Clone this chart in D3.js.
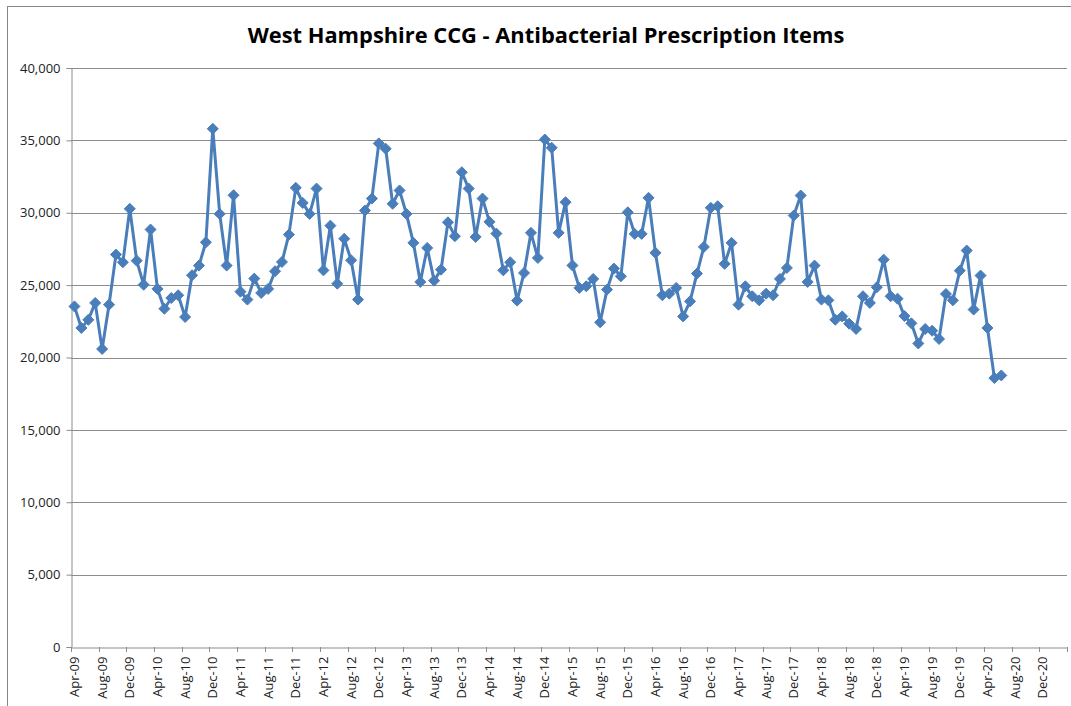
<!DOCTYPE html>
<html><head><meta charset="utf-8">
<script src="https://cdn.jsdelivr.net/npm/d3@7"></script>
<style>
body{margin:0;background:#fff;}
svg{display:block;font-family:"Open Sans","Liberation Sans",sans-serif;}
</style></head>
<body><svg id="chart" width="1071" height="706"></svg>
<script>
const title = "West Hampshire CCG - Antibacterial Prescription Items";
const monthNames = ["Jan","Feb","Mar","Apr","May","Jun","Jul","Aug","Sep","Oct","Nov","Dec"];
// axis covers Apr-09 .. Mar-21 (144 months), data Apr-09 .. Jun-20
const values = [
 23530,22040,22600,23770,20590,23650,27110,26580,30270,26690,25030,28840,
 24740,23370,24110,24300,22800,25680,26350,27960,35800,29920,26350,31210,
 24550,24000,25450,24460,24740,25960,26600,28490,31720,30680,29920,31670,
 26020,29110,25100,28200,26720,24000,30150,30980,34790,34420,30620,31540,
 29920,27920,25220,27570,25310,26070,29340,28380,32800,31670,28330,30980,
 29370,28560,26020,26580,23930,25840,28610,26880,35060,34490,28610,30730,
 26360,24810,24920,25430,22430,24690,26140,25610,30030,28540,28540,31030,
 27230,24300,24410,24810,22840,23880,25800,27640,30340,30450,26470,27920,
 23650,24920,24230,23950,24410,24300,25430,26190,29810,31190,25220,26350,
 24000,23950,22610,22840,22340,21970,24230,23770,24850,26760,24230,24060,
 22860,22360,20970,21970,21850,21280,24390,23950,26000,27390,23310,25660,
 22040,18580,18760
];
const yTicks = [0,5000,10000,15000,20000,25000,30000,35000,40000];
const nMonths = 144;
const startYear = 2009, startMonth = 3; // April
const monthLabel = i => { const m = (startMonth + i) % 12, y = startYear + Math.floor((startMonth + i)/12); return monthNames[m] + "-" + String(y % 100).padStart(2,"0"); };
const categories = d3.range(nMonths).map(monthLabel);
const tickIdx = d3.range(0, nMonths, 4);

const svg = d3.select("#chart");
const L = 71, R = 1067, T = 68, B = 647;

// chart border
svg.append("rect").attr("x",7.5).attr("y",6.5).attr("width",1100).attr("height",760)
  .attr("fill","#fff").attr("stroke","#868686").attr("stroke-width",1);

const x = d3.scaleBand().domain(categories).range([L, R]).paddingInner(0).paddingOuter(0);
const y = d3.scaleLinear().domain([0, 40000]).range([B, T]);

// gridlines
svg.append("g").selectAll("line").data(yTicks.filter(d => d > 0)).join("line")
  .attr("x1", L).attr("x2", R).attr("y1", d => Math.round(y(d)) + 0.5).attr("y2", d => Math.round(y(d)) + 0.5)
  .attr("stroke","#8c8c8c").attr("stroke-width",1);

// y axis
const yAxis = svg.append("g").attr("transform", `translate(${L + 0.5},0)`)
  .call(d3.axisLeft(y).tickValues(yTicks).tickSize(5).tickPadding(6).tickFormat(d3.format(",")));
yAxis.select(".domain").attr("stroke","#8c8c8c");
yAxis.selectAll(".tick line").attr("stroke","#8c8c8c");
yAxis.selectAll(".tick text").attr("font-size",13).attr("fill","#222")
  .attr("font-family","Open Sans, sans-serif");

// x axis
const xAxis = svg.append("g").attr("transform", `translate(0,${B + 0.5})`)
  .call(d3.axisBottom(x).tickValues(tickIdx.map(i => categories[i])).tickSize(0).tickFormat(d => d));
xAxis.select(".domain").attr("stroke","#8c8c8c");
xAxis.selectAll(".tick text")
  .attr("transform","rotate(-90)")
  .attr("text-anchor","end").attr("dy","0.35em").attr("dx",0).attr("x",-9).attr("y",0)
  .attr("font-size",13).attr("fill","#222").attr("font-family","Open Sans, sans-serif");
// tick marks at month boundaries
svg.append("g").selectAll("line").data(tickIdx.concat([nMonths])).join("line")
  .attr("x1", i => Math.round(L + i * x.step()) + 0.5).attr("x2", i => Math.round(L + i * x.step()) + 0.5)
  .attr("y1", B).attr("y2", B + 5).attr("stroke","#8c8c8c");

// series line
const cx = (d,i) => x(categories[i]) + x.bandwidth()/2;
const line = d3.line().x(cx).y(d => y(d));
svg.append("path").datum(values).attr("d", line)
  .attr("fill","none").attr("stroke","#4a7ebb").attr("stroke-width",3).attr("stroke-linejoin","round");

// diamond markers
const r = 5.5;
svg.append("g").selectAll("path").data(values).join("path")
  .attr("transform",(d,i) => `translate(${cx(d,i)},${y(d)})`)
  .attr("d",`M0,${-r}L${r},0L0,${r}L${-r},0Z`)
  .attr("fill","#4a7ebb").attr("stroke","#4a7ebb").attr("stroke-width",1);

// title
const t = svg.append("text").attr("x", 546).attr("y", 43).attr("text-anchor","middle")
  .attr("font-size",22).attr("font-weight","bold").attr("fill","#000")
  .attr("font-family","Open Sans, sans-serif").text(title);
const w = t.node().getComputedTextLength();
t.attr("font-size", 22 * 597 / w);
</script>
</body></html>
